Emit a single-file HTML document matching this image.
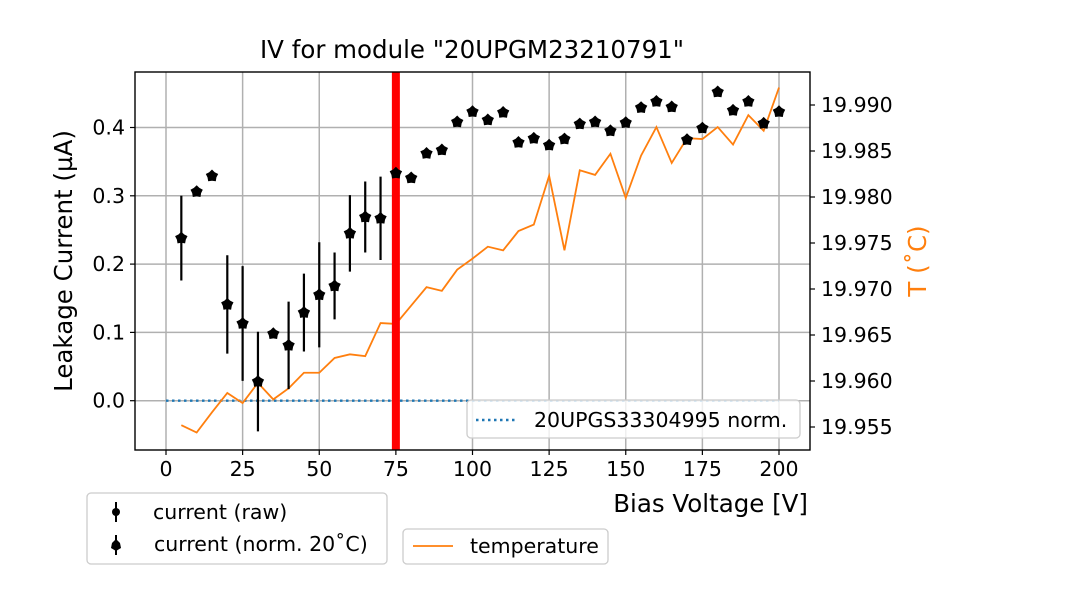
<!DOCTYPE html>
<html><head><meta charset="utf-8"><style>
body{margin:0;background:#fff;}
svg{display:block;font-family:"DejaVu Sans","Liberation Sans",sans-serif;}
</style></head><body>
<svg id="chart" width="1080" height="600" viewBox="0 0 1080 600"></svg>
<script>
const voltages=[5,10,15,20,25,30,35,40,45,50,55,60,65,70,75,80,85,90,95,100,105,110,115,120,125,130,135,140,145,150,155,160,165,170,175,180,185,190,195,200];
const currentNorm=[0.238,0.306,0.329,0.141,0.113,0.028,0.098,0.081,0.129,0.155,0.168,0.245,0.269,0.267,0.333,0.326,0.362,0.367,0.408,0.423,0.411,0.422,0.378,0.384,0.374,0.383,0.405,0.408,0.395,0.407,0.429,0.438,0.430,0.382,0.399,0.452,0.425,0.438,0.406,0.423];
const currentErr=[0.062,0,0,0.072,0.084,0.073,0,0.064,0.057,0.077,0.049,0.056,0.052,0.061,0,0,0,0,0,0,0,0,0,0,0,0,0,0,0,0,0,0,0,0,0,0,0,0,0,0];
const temperature=[19.9552,19.9544,19.9566,19.9587,19.9576,19.9598,19.9580,19.9592,19.9609,19.9609,19.9625,19.9629,19.9627,19.9663,19.9662,19.9682,19.9702,19.9698,19.9721,19.9733,19.9746,19.9742,19.9763,19.9770,19.9823,19.9742,19.9829,19.9824,19.9847,19.9799,19.9845,19.9876,19.9837,19.9864,19.9863,19.9876,19.9857,19.9889,19.9872,19.9919];
const xTicks=[0,25,50,75,100,125,150,175,200];
const yTicks=[0.0,0.1,0.2,0.3,0.4];
const yTickLabels=["0.0","0.1","0.2","0.3","0.4"];
const tTicks=[19.955,19.960,19.965,19.970,19.975,19.980,19.985,19.990];
const tTickLabels=["19.955","19.960","19.965","19.970","19.975","19.980","19.985","19.990"];
const refLine=[0,200];
const markerV=75;

const L=135,R=810,T=72,B=450;
const X=v=>166+(v-0)*3.065;
const Y=c=>400.7-c*683;
const YT=t=>427-(t-19.955)*9200;
const NS='http://www.w3.org/2000/svg';
const svg=document.getElementById('chart');
function mk(tag,attrs,parent){const e=document.createElementNS(NS,tag);for(const k in attrs)e.setAttribute(k,attrs[k]);(parent||svg).appendChild(e);return e;}

mk('rect',{x:L,y:T,width:R-L,height:B-T,fill:'#fff'});
const grid=mk('g',{});


xTicks.forEach(v=>mk('line',{x1:X(v),x2:X(v),y1:T,y2:B,stroke:'#b0b0b0','stroke-width':1.5},grid));
yTicks.forEach(v=>mk('line',{x1:L,x2:R,y1:Y(v),y2:Y(v),stroke:'#b0b0b0','stroke-width':1.5},grid));

const ref=mk('line',{x1:X(refLine[0]),x2:X(refLine[1]),y1:Y(0),y2:Y(0),stroke:'#1f77b4','stroke-width':2.4,'stroke-dasharray':'2.5 3.5'});



const tl=mk('polyline',{points:voltages.map((v,i)=>X(v)+','+YT(temperature[i])).join(' '),fill:'none',stroke:'#ff7f0e','stroke-width':1.8});



const rl=mk('line',{x1:X(markerV),x2:X(markerV),y1:T,y2:B,stroke:'#ff0000','stroke-width':8});



function star(cx,cy,r,parent){
  let p=[];for(let k=0;k<10;k++){const a=-Math.PI/2+k*Math.PI/5;const rr=k%2?r*0.72:r;p.push((cx+rr*Math.cos(a)).toFixed(1)+','+(cy+rr*Math.sin(a)).toFixed(1));}
  return mk('polygon',{points:p.join(' '),fill:'#000'},parent);
}
const pts=mk('g',{});


voltages.forEach((v,i)=>{
  if(currentErr[i]>0){
    const eb=mk('line',{x1:X(v),x2:X(v),y1:Y(currentNorm[i]+currentErr[i]),y2:Y(currentNorm[i]-currentErr[i]),stroke:'#000','stroke-width':2.2},pts);
    
    
  }
  const s=star(X(v),Y(currentNorm[i]),6.5,pts);
  
  
});

mk('rect',{x:L,y:T,width:R-L,height:B-T,fill:'none',stroke:'#000','stroke-width':1.4});

xTicks.forEach(v=>{
  mk('line',{x1:X(v),x2:X(v),y1:B,y2:B+5,stroke:'#000','stroke-width':1.2});
  const t=mk('text',{x:X(v),y:B+26,'text-anchor':'middle','font-size':20.5,fill:'#000'});t.textContent=v;
  
  
});
yTicks.forEach((v,i)=>{
  mk('line',{x1:L-5,x2:L,y1:Y(v),y2:Y(v),stroke:'#000','stroke-width':1.2});
  const t=mk('text',{x:L-10,y:Y(v)+7,'text-anchor':'end','font-size':20.5,fill:'#000'});t.textContent=yTickLabels[i];
  
  
});
tTicks.forEach((v,i)=>{
  mk('line',{x1:R,x2:R+5,y1:YT(v),y2:YT(v),stroke:'#000','stroke-width':1.2});
  const t=mk('text',{x:R+11,y:YT(v)+7,'text-anchor':'start','font-size':20.5,fill:'#000'});t.textContent=tTickLabels[i];
  
  
});
</script>
<script>
(function(){
const svg=document.getElementById('chart');const NS='http://www.w3.org/2000/svg';
function mk(tag,attrs,txt){const e=document.createElementNS(NS,tag);for(const k in attrs)e.setAttribute(k,attrs[k]);if(txt!==undefined)e.textContent=txt;svg.appendChild(e);return e;}
let e;
e=mk('text',{x:472,y:58,'text-anchor':'middle','font-size':24.5},'IV for module "20UPGM23210791"');

e=mk('text',{x:808,y:512,'text-anchor':'end','font-size':24.5},'Bias Voltage [V]');

e=mk('text',{x:0,y:0,'text-anchor':'middle','font-size':24.5,transform:'translate(72,261) rotate(-90)'},'Leakage Current (µA)');

e=mk('text',{x:0,y:0,'text-anchor':'middle','font-size':24.5,fill:'#ff7f0e',transform:'translate(926,261) rotate(-90)'},'T (˚C)');


e=mk('rect',{x:467,y:400,width:333,height:38,rx:4,fill:'#fff','fill-opacity':0.8,stroke:'#ccc','stroke-width':1.3});

mk('line',{x1:476,x2:516,y1:420,y2:420,stroke:'#1f77b4','stroke-width':2.4,'stroke-dasharray':'2.5 3.5'});
e=mk('text',{x:534,y:427,'font-size':20.5},'20UPGS33304995 norm.');


e=mk('rect',{x:87,y:493,width:300,height:71,rx:4,fill:'#fff',stroke:'#ccc','stroke-width':1.3});

mk('line',{x1:116,x2:116,y1:502,y2:522,stroke:'#000','stroke-width':2});
mk('circle',{cx:116,cy:512,r:4,fill:'#000'});
e=mk('text',{x:153,y:519,'font-size':20.5},'current (raw)');

mk('line',{x1:116,x2:116,y1:535,y2:555,stroke:'#000','stroke-width':2});
mk('polygon',{points:'116,539 120,543 121,548 116,551 111,548 112,543',fill:'#000'});
e=mk('text',{x:154,y:551,'font-size':20.5},'current (norm. 20˚C)');


e=mk('rect',{x:403,y:529,width:205,height:35,rx:4,fill:'#fff',stroke:'#ccc','stroke-width':1.3});

mk('line',{x1:413,x2:453,y1:546,y2:546,stroke:'#ff7f0e','stroke-width':1.8});
e=mk('text',{x:470,y:553,'font-size':20.5},'temperature');

})();
</script>
</body></html>
